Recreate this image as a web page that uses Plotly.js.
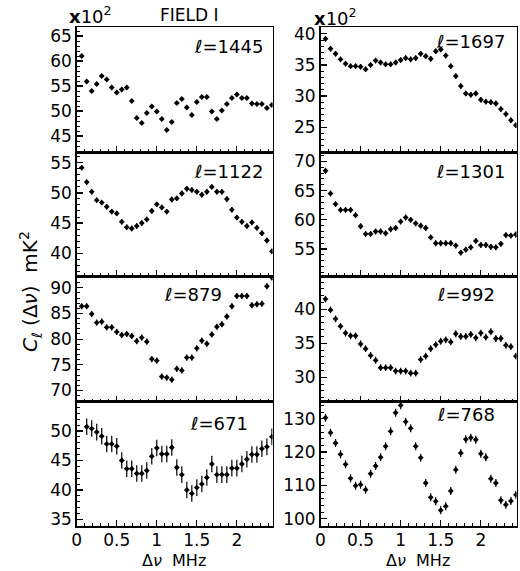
<!DOCTYPE html>
<html>
<head>
<meta charset="utf-8">
<script src="https://cdn.plot.ly/plotly-3.0.1.min.js"></script>
<style>
  html, body { margin: 0; padding: 0; background: #fff; }
  #chart { width: 520px; height: 571px; }
</style>
</head>
<body>
<div id="chart"></div>
<script>
// frequency separation (MHz)
const dnu = [0.0625, 0.125, 0.1875, 0.25, 0.3125, 0.375, 0.4375, 0.5, 0.5625, 0.625,
  0.6875, 0.75, 0.8125, 0.875, 0.9375, 1.0, 1.0625, 1.125, 1.1875, 1.25,
  1.3125, 1.375, 1.4375, 1.5, 1.5625, 1.625, 1.6875, 1.75, 1.8125, 1.875,
  1.9375, 2.0, 2.0625, 2.125, 2.1875, 2.25, 2.3125, 2.375, 2.4375];

// C_l(dnu) in units of 10^2 mK^2
const cl1445 = [61.0, 55.9, 54.0, 55.4, 57.0, 56.3, 54.7, 53.7, 54.3, 54.7,
  52.0, 48.6, 47.6, 49.6, 50.9, 49.9, 48.4, 46.2, 47.8, 51.6,
  52.4, 50.7, 49.2, 51.8, 52.8, 52.8, 49.9, 48.4, 50.1, 51.4,
  52.6, 53.3, 52.6, 52.6, 51.5, 51.4, 51.4, 50.6, 51.2];
const cl1122 = [54.2, 51.8, 50.2, 48.8, 48.4, 47.7, 46.9, 46.6, 45.2, 44.3,
  44.1, 44.5, 45.0, 45.6, 47.0, 48.1, 47.6, 46.9, 48.9, 49.1,
  49.9, 50.7, 50.5, 50.2, 49.7, 50.2, 51.0, 50.2, 50.2, 49.0,
  47.2, 45.9, 45.2, 44.5, 45.1, 44.2, 43.3, 42.1, 40.3];
const cl879 = [86.4, 86.4, 84.9, 83.2, 83.4, 82.3, 82.3, 81.4, 80.8, 81.0,
  80.6, 79.6, 80.3, 79.5, 76.1, 75.8, 72.7, 72.5, 72.1, 74.2,
  73.9, 76.4, 76.4, 78.2, 79.7, 79.1, 80.9, 82.4, 82.9, 84.4,
  86.4, 88.4, 88.4, 88.4, 86.6, 86.8, 86.9, 90.3, 92.0];
const cl671 = [null, 50.7, 50.4, 49.8, 49.1, 47.8, 47.8, 47.4, 45.0, 43.6,
  43.6, 42.8, 42.8, 43.3, 45.7, 47.1, 46.1, 46.1, 47.2, 43.8,
  42.6, 40.0, 39.4, 40.4, 41.0, 42.1, 44.4, 42.6, 42.6, 42.6,
  43.7, 43.7, 44.4, 45.2, 46.0, 46.0, 47.0, 47.3, 49.0];
const cl1697 = [39.2, 37.6, 36.8, 35.9, 35.2, 34.8, 34.8, 34.7, 34.3, 35.0,
  35.7, 35.4, 35.1, 35.1, 35.4, 35.8, 36.1, 35.9, 36.1, 36.8,
  36.4, 36.0, 37.2, 37.5, 36.5, 34.8, 33.2, 31.6, 30.4, 30.2,
  30.4, 29.4, 29.1, 29.0, 28.8, 27.9, 27.1, 26.1, 25.3];
const cl1301 = [68.4, 64.5, 62.7, 61.7, 61.7, 61.7, 60.8, 58.9, 57.6, 57.6,
  58.0, 58.0, 57.7, 58.4, 58.6, 59.7, 60.4, 60.0, 59.4, 59.0,
  58.6, 57.0, 56.0, 56.0, 56.0, 56.0, 55.6, 54.4, 54.9, 55.3,
  56.4, 55.7, 55.7, 55.4, 55.3, 55.9, 57.4, 57.3, 57.5];
const cl992 = [41.5, 39.9, 38.6, 37.5, 36.5, 36.1, 36.1, 34.9, 34.2, 33.2,
  32.5, 31.4, 31.4, 31.4, 30.9, 30.9, 30.9, 30.6, 30.6, 32.6,
  33.1, 34.2, 34.8, 35.3, 35.5, 35.2, 36.4, 36.0, 36.0, 36.3,
  35.8, 36.5, 35.9, 36.7, 35.7, 35.7, 34.7, 34.5, 33.1];
const cl768 = [130.3, 125.8, 122.7, 119.3, 116.3, 112.1, 109.9, 110.2, 108.7, 113.5,
  115.8, 118.4, 121.7, 126.2, 131.8, 134.0, 129.1, 127.1, 121.7, 118.3,
  110.7, 106.4, 105.2, 102.5, 103.7, 108.3, 114.7, 119.7, 123.8, 124.3,
  123.7, 119.5, 118.4, 112.0, 110.7, 105.5, 104.2, 105.3, 107.2];

// panel order: left column top->bottom, then right column top->bottom
const ells = ["1445", "1122", "879", "671", "1697", "1301", "992", "768"];
const series = [cl1445, cl1122, cl879, cl671, cl1697, cl1301, cl992, cl768];
const sigma = [0.4, 0.45, 0.6, 1.4, 0.45, 0.5, 0.5, 1.2];
const yRanges = [[41.8, 66.8], [36.2, 56.8], [67.8, 92.3], [33.9, 54.95],
  [21.0, 41.1], [50.4, 71.6], [26.4, 44.9], [97.8, 135.1]];
const yMajor = [5, 5, 5, 5, 5, 5, 5, 10];
const yMinor = [1, 1, 1, 1, 1, 1, 1, 2];

const W = 520, H = 571;
const colX = [[76.7, 272.5], [320.5, 516.5]];
const rowY = [27, 152, 276, 401.7, 526];
const labelPos = [[265, 46], [265, 172], [224, 294], [250, 424],
  [507, 41], [507, 172], [497, 294], [497, 414]];

const font = "DejaVu Sans, Arial, sans-serif";
const data = [];
const layout = {
  width: W, height: H,
  margin: {l: 0, r: 0, t: 0, b: 0},
  paper_bgcolor: "white",
  plot_bgcolor: "white",
  showlegend: false,
  font: {family: font, size: 17, color: "black"},
  annotations: []
};

series.forEach((ys, i) => {
  const col = Math.floor(i / 4), row = i % 4;
  const n = i + 1;
  const xk = "xaxis" + (n === 1 ? "" : n), yk = "yaxis" + (n === 1 ? "" : n);
  const xr = "x" + (n === 1 ? "" : n), yr = "y" + (n === 1 ? "" : n);

  data.push({
    x: dnu, y: ys, xaxis: xr, yaxis: yr,
    type: "scatter", mode: "markers",
    marker: {symbol: "diamond", size: 4.5, color: "black"},
    error_y: {type: "constant", value: sigma[i], color: "black", thickness: 1.2, width: 0}
  });

  layout[xk] = {
    domain: [colX[col][0] / W, colX[col][1] / W],
    anchor: yr,
    range: [0, 2.445],
    showline: true, mirror: true, linecolor: "black", linewidth: 1.5,
    ticks: "inside", ticklen: 6, tickwidth: 1.2, tickcolor: "black",
    tick0: 0, dtick: 0.5,
    minor: {ticks: "inside", ticklen: 3, tickwidth: 1, dtick: 0.1, tickcolor: "black"},
    showgrid: false, zeroline: false,
    showticklabels: row === 3,
    ticklabelstandoff: -2,
    tickfont: {size: 17}
  };
  layout[yk] = {
    domain: [1 - rowY[row + 1] / H, 1 - rowY[row] / H],
    anchor: xr,
    range: yRanges[i],
    showline: true, mirror: true, linecolor: "black", linewidth: 1.5,
    ticks: "inside", ticklen: 6, tickwidth: 1.2, tickcolor: "black",
    dtick: yMajor[i],
    minor: {ticks: "inside", ticklen: 3, tickwidth: 1, dtick: yMinor[i], tickcolor: "black"},
    showgrid: false, zeroline: false,
    tickfont: {size: 17}
  };

  layout.annotations.push({
    xref: "paper", yref: "paper",
    x: labelPos[i][0] / W, y: 1 - labelPos[i][1] / H,
    xanchor: "right", yanchor: "middle", showarrow: false,
    text: "<i>ℓ</i>=" + ells[i], font: {size: 18}
  });
});

// headers and axis titles
layout.annotations.push(
  {xref: "paper", yref: "paper", x: 67 / W, y: 1 - 15 / H, xanchor: "left", yanchor: "middle",
    showarrow: false, text: "<b>x</b>10<sup>2</sup>", font: {size: 18}},
  {xref: "paper", yref: "paper", x: 312 / W, y: 1 - 17 / H, xanchor: "left", yanchor: "middle",
    showarrow: false, text: "<b>x</b>10<sup>2</sup>", font: {size: 18}},
  {xref: "paper", yref: "paper", x: 189 / W, y: 1 - 15 / H, xanchor: "center", yanchor: "middle",
    showarrow: false, text: "FIELD I", font: {size: 17}},
  {xref: "paper", yref: "paper", x: 174 / W, y: 0, xanchor: "center", yanchor: "bottom",
    showarrow: false, borderpad: 0, text: "Δ<i>ν</i>  MHz", font: {size: 16}},
  {xref: "paper", yref: "paper", x: 418 / W, y: 0, xanchor: "center", yanchor: "bottom",
    showarrow: false, borderpad: 0, text: "Δ<i>ν</i>  MHz", font: {size: 16}},
  {xref: "paper", yref: "paper", x: 30 / W, y: 1 - 292 / H, xanchor: "center", yanchor: "middle",
    showarrow: false, textangle: -90,
    text: "<i>C</i><sub><i>ℓ</i></sub> (Δ<i>ν</i>)  mK<sup>2</sup>", font: {size: 20}}
);

Plotly.newPlot("chart", data, layout, {staticPlot: true});
</script>
</body>
</html>
